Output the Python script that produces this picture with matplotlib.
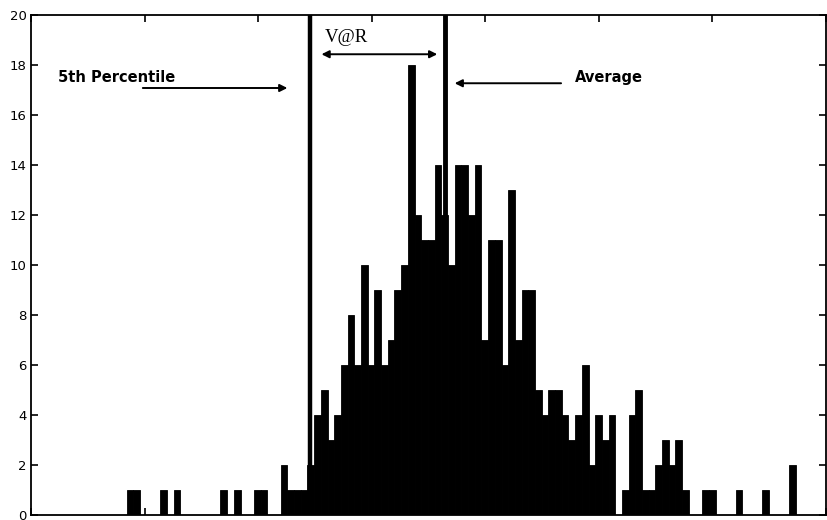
import matplotlib
matplotlib.use("Agg")
import matplotlib.pyplot as plt
import numpy as np

# histogram counts, 100 equal bins (bin index units)
counts = [1, 1, 0, 0, 0, 1, 0, 1, 0, 0,
          0, 0, 0, 0, 1, 0, 1, 0, 0, 1,
          1, 0, 0, 2, 1, 1, 1, 2, 4, 5,
          3, 4, 6, 8, 6, 10, 6, 9, 6, 7,
          9, 10, 18, 12, 11, 11, 14, 12, 10, 14,
          14, 12, 14, 7, 11, 11, 6, 13, 7, 9,
          9, 5, 4, 5, 5, 4, 3, 4, 6, 2,
          4, 3, 4, 0, 1, 4, 5, 1, 1, 2,
          3, 2, 3, 1, 0, 0, 1, 1, 0, 0,
          0, 1, 0, 0, 0, 1, 0, 0, 0, 2]
bins = np.arange(len(counts))

pct5 = 27.4      # 5th percentile
average = 47.5   # mean
yticks = np.arange(0, 21, 2)

fig = plt.figure(figsize=(8.27, 5.2), dpi=100)
ax = fig.add_axes([31/827, 5/520, 795/827, 500/520])

ax.bar(bins, counts, width=1.0, align='edge', color='black',
       edgecolor='black', linewidth=0.6)

ax.axvline(pct5, color='black', lw=3.2)
ax.axvline(average, color='black', lw=3.5)

# annotations
ax.text(-10.3, 17.52, '5th Percentile', fontsize=10.5, fontweight='bold',
        ha='left', va='center', family='DejaVu Sans')
ax.annotate('', xy=(24.0, 17.08), xytext=(2.4, 17.08),
            arrowprops=dict(arrowstyle='-|>', color='black', lw=1.4,
                            mutation_scale=11, shrinkA=0, shrinkB=0))

ax.text(29.6, 19.1, 'V@R', fontsize=13.5, ha='left', va='center',
        family='Liberation Serif')
ax.annotate('', xy=(46.4, 18.43), xytext=(29.1, 18.43),
            arrowprops=dict(arrowstyle='<|-|>', color='black', lw=1.4,
                            mutation_scale=11, shrinkA=0, shrinkB=0))

ax.text(66.9, 17.5, 'Average', fontsize=10.5, fontweight='bold',
        ha='left', va='center', family='DejaVu Sans')
ax.annotate('', xy=(49.0, 17.27), xytext=(64.9, 17.27),
            arrowprops=dict(arrowstyle='-|>', color='black', lw=1.4,
                            mutation_scale=11, shrinkA=0, shrinkB=0))

xlo, xhi = -14.31, 104.49
ax.set_xlim(xlo, xhi)
ax.set_ylim(0, 20)
ax.set_xticks(np.linspace(xlo, xhi, 8))
ax.set_yticks(yticks)
ax.set_yticklabels([str(v) for v in yticks], fontsize=9.5)
ax.tick_params(direction='in', top=True, right=True, length=5, width=1.2,
               labelbottom=False, pad=3)
for s in ax.spines.values():
    s.set_linewidth(1.3)

fig.savefig('out.png', dpi=100)
